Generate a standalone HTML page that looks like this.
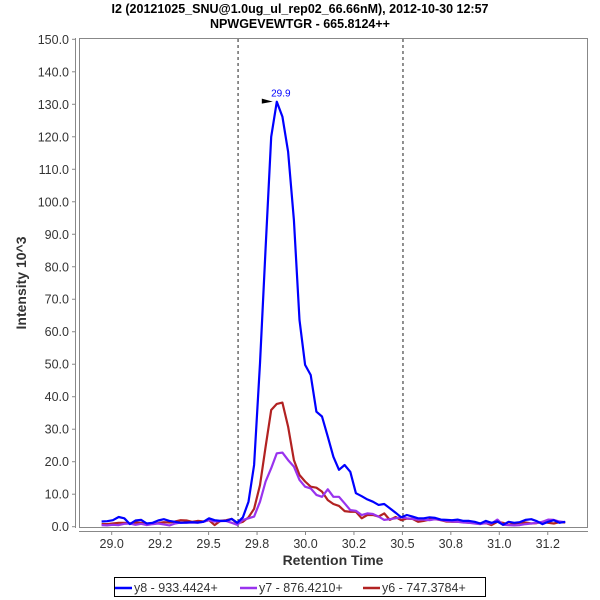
<!DOCTYPE html>
<html><head><meta charset="utf-8"><style>
body{margin:0;background:#fff;}
svg{display:block;font-family:"Liberation Sans",sans-serif;}
</style></head><body>
<svg id="chart" width="600" height="600" viewBox="0 0 600 600">
<text x="300" y="13" text-anchor="middle" font-size="12.5" font-weight="bold" fill="#000">I2 (20121025_SNU@1.0ug_ul_rep02_66.66nM), 2012-10-30 12:57</text>
<text x="300" y="28" text-anchor="middle" font-size="12.5" font-weight="bold" fill="#000">NPWGEVEWTGR - 665.8124++</text>
<rect x="79.5" y="38.5" width="508" height="489" fill="#fff" stroke="#888" stroke-width="1"/>
<g id="yaxis"></g>
<g id="xaxis"></g>
<g id="markers"></g>
<g id="series"></g>
<text transform="translate(26,283) rotate(-90)" text-anchor="middle" font-size="14" font-weight="bold" fill="#333">Intensity 10^3</text>
<text x="333" y="565" text-anchor="middle" font-size="14" font-weight="bold" fill="#333">Retention Time</text>
<g>
<rect x="114.5" y="577.5" width="371" height="19" fill="#fff" stroke="#000"/>
<g><line x1="115" y1="588" x2="132" y2="588" stroke="#0000ff" stroke-width="2.5"/><text x="134" y="592" font-size="12.5" fill="#333">y8 - 933.4424+</text></g>
<g><line x1="240" y1="588" x2="257" y2="588" stroke="#9933ee" stroke-width="2.5"/><text x="259" y="592" font-size="12.5" fill="#333">y7 - 876.4210+</text></g>
<g><line x1="363" y1="588" x2="380" y2="588" stroke="#b22222" stroke-width="2.5"/><text x="382" y="592" font-size="12.5" fill="#333">y6 - 747.3784+</text></g>
</g>
</svg>
<script>
const times = [28.948,28.977,29.006,29.036,29.065,29.094,29.123,29.152,29.181,29.211,29.240,29.269,29.298,29.327,29.356,29.386,29.415,29.444,29.473,29.502,29.531,29.561,29.590,29.619,29.648,29.677,29.706,29.735,29.765,29.794,29.823,29.852,29.881,29.910,29.940,29.969,29.998,30.027,30.056,30.085,30.115,30.144,30.173,30.202,30.231,30.260,30.290,30.319,30.348,30.377,30.406,30.435,30.465,30.494,30.523,30.552,30.581,30.610,30.640,30.669,30.698,30.727,30.756,30.785,30.815,30.844,30.873,30.902,30.931,30.960,30.990,31.019,31.048,31.077,31.106,31.135,31.165,31.194,31.223,31.252,31.281,31.310,31.340];
const y8 = [1.6,1.7,2.0,3.0,2.6,0.8,1.9,2.1,1.0,1.2,1.9,2.3,1.8,1.5,1.2,1.3,1.4,1.3,1.5,2.6,2.0,1.8,1.8,2.4,
1.2,2.9,7.7,19,50.3,85.7,120,130.8,126.2,115.4,94.4,63.6,49.8,46.7,35.4,33.9,27.7,21.5,17.5,19,16.9,10.3,9.4,8.4,7.7,6.7,7,5.7,4.3,2.9,3.6,3.1,2.6,
2.6,2.9,2.7,2.2,2.1,2.0,2.2,1.8,1.8,1.5,1.0,1.8,1.2,1.6,0.6,1.5,1.2,1.4,2.1,2.3,1.7,0.8,1.5,2.0,1.2,1.5];
const y7 = [0.5,0.4,0.6,0.5,0.9,1.0,0.6,0.9,0.5,0.8,1.0,0.7,0.4,1.0,1.3,1.2,1.3,1.2,1.5,2.0,1.6,1.7,1.8,1.2,
0.6,2.1,2.6,3.1,7.7,13.9,18.0,22.6,22.8,20.5,18.5,14.4,12.3,11.8,9.8,9.2,11.5,9.2,9.2,7.2,5.1,4.9,3.6,4.1,3.9,3.1,2.1,2.3,2.6,2.9,2.6,2.4,2.2,
2.2,2.0,2.3,2.1,1.8,1.6,1.5,1.3,1.2,1.0,0.8,1.1,1.0,2.2,0.6,0.5,0.4,0.5,0.8,1.0,1.2,1.5,2.2,2.1,1.6,1.4];
const y6 = [0.8,0.8,1.0,1.2,1.2,1.0,1.3,1.2,1.0,0.9,1.1,1.4,1.3,1.6,2.0,1.9,1.5,1.8,1.6,2.0,0.5,1.8,2.0,2.4,
1.0,1.5,2.9,5.5,12.8,24.6,35.9,37.8,38.2,30.8,20.5,15.9,13.9,12.3,12.0,10.8,8.2,7.0,6.4,4.8,4.6,4.6,2.6,3.6,3.6,3.1,4.1,2.1,3.0,2.0,2.5,2.4,1.5,
1.8,2.2,2.3,2.0,1.6,1.5,1.5,1.4,1.2,1.3,1.0,1.1,0.5,1.5,1.2,0.6,1.0,1.2,1.3,1.0,1.1,1.5,1.2,1.0,1.4,1.3];
const yTicks = [0,10,20,30,40,50,60,70,80,90,100,110,120,130,140,150];
const xTicks = [29.0,29.25,29.5,29.75,30.0,30.25,30.5,30.75,31.0,31.25];
const xTickLabels = ["29.0","29.2","29.5","29.8","30.0","30.2","30.5","30.8","31.0","31.2"];
const boundaries = [29.652,30.503];
const peakTime = 29.852, peakValue = 130.8, peakLabel = "29.9";

const NS = "http://www.w3.org/2000/svg";
function X(t){return 111.7+(t-29)*193.8;}
function Y(v){return 526.7-v*(487.4/150);}
function mk(tag,attrs,parent){const e=document.createElementNS(NS,tag);for(const k in attrs)e.setAttribute(k,attrs[k]);parent.appendChild(e);return e;}

const ya=document.getElementById('yaxis');
mk('line',{x1:75.5,y1:38,x2:75.5,y2:528,stroke:'#888'},ya);
yTicks.forEach(v=>{
  const y=Y(v);
  const tk=mk('line',{x1:72,y1:y,x2:75.5,y2:y,stroke:'#888'},ya);
  
  
  const t=mk('text',{x:69,y:y+4.5,'text-anchor':'end','font-size':'12.5',fill:'#333'},ya);
  t.textContent=v.toFixed(1);
  
  
});
const xa=document.getElementById('xaxis');
mk('line',{x1:79,y1:531.5,x2:588,y2:531.5,stroke:'#888'},xa);
xTicks.forEach((v,i)=>{
  const x=X(v);
  const tk=mk('line',{x1:x,y1:531.5,x2:x,y2:535,stroke:'#888'},xa);
  
  
  const t=mk('text',{x:x,y:548,'text-anchor':'middle','font-size':'12.5',fill:'#333'},xa);
  t.textContent=xTickLabels[i];
  
  
});
const mg=document.getElementById('markers');
boundaries.forEach(b=>{
  const l=mk('line',{x1:X(b),y1:39,x2:X(b),y2:527,stroke:'#222','stroke-dasharray':'3,3','stroke-width':1},mg);
  
  
});
const sg=document.getElementById('series');
[[y6,'#b22222','series-y6'],[y7,'#9933ee','series-y7'],[y8,'#0000ff','series-y8']].forEach(([arr,c,n])=>{
  const pts=arr.map((v,i)=>X(times[i]).toFixed(1)+','+Y(v).toFixed(1)).join(' ');
  const p=mk('polyline',{points:pts,fill:'none',stroke:c,'stroke-width':2.2,'stroke-linejoin':'round'},sg);
  
  
});
const px=X(peakTime), py=Y(peakValue);
const tri=mk('polygon',{points:(px-15)+','+(py-3)+' '+(px-15)+','+(py+2)+' '+(px-4)+','+(py)},sg);
tri.setAttribute('fill','#000');


const pl=mk('text',{x:px+4,y:py-5,'text-anchor':'middle','font-size':'10',fill:'#0000ff'},sg);
pl.textContent=peakLabel;


</script>
</body></html>
